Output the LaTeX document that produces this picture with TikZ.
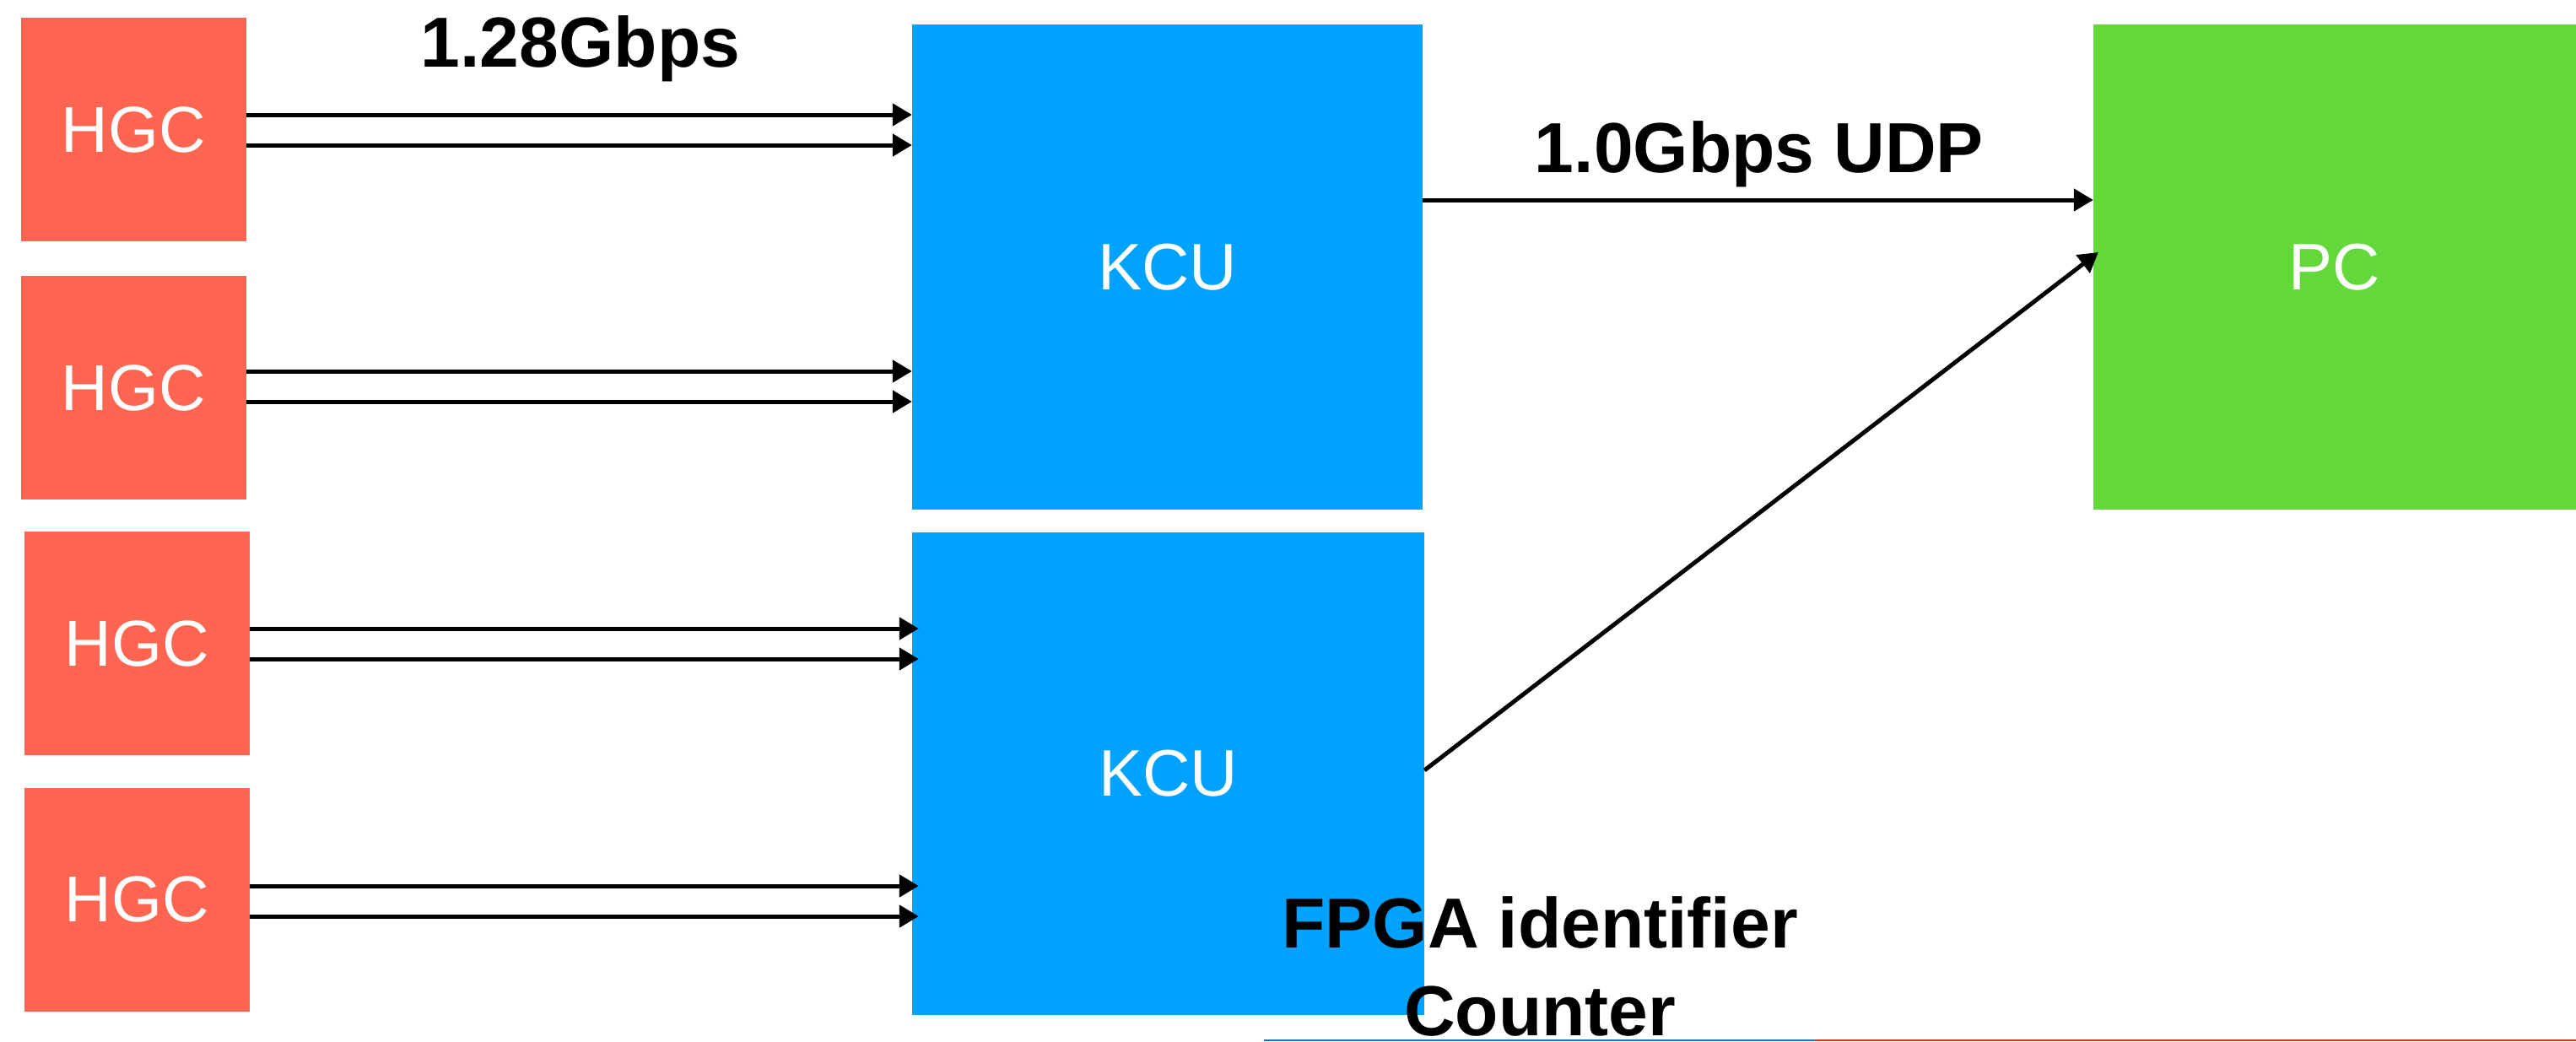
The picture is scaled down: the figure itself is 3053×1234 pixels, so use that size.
\documentclass[tikz,border=0pt]{standalone}
\usepackage{fontspec}
\setmainfont{Liberation Sans}
\usetikzlibrary{arrows.meta,calc}
\definecolor{hgcred}{RGB}{255,101,80}
\definecolor{kcublue}{RGB}{0,162,255}
\definecolor{pcgreen}{RGB}{98,216,58}
\definecolor{lineblue}{RGB}{32,112,184}
\definecolor{linered}{RGB}{216,48,32}
\tikzset{
  hgcbox/.style={fill=hgcred, draw=none, inner sep=0pt, minimum width=267pt, minimum height=265pt,
    text=white, font=\fontsize{77}{92}\selectfont},
  kcubox/.style={fill=kcublue, draw=none, inner sep=0pt, minimum width=605pt, minimum height=575pt,
    text=white, font=\fontsize{78}{94}\selectfont},
  pcbox/.style={fill=pcgreen, draw=none, inner sep=0pt, minimum width=572pt, minimum height=575pt,
    text=white, font=\fontsize{78}{94}\selectfont},
  arr/.style={line width=5pt, -{Triangle[length=23pt,width=26pt]}},
  lbl/.style={inner sep=0pt, anchor=base, font=\bfseries\fontsize{84}{104}\selectfont}
}
\begin{document}
\begin{tikzpicture}[x=1pt,y=-1pt]
\useasboundingbox (0,0) rectangle (3053,1234);
% boxes
\node[hgcbox] (h1) at (158.5,153.5) {HGC};
\node[hgcbox] (h2) at (158.5,459.5) {HGC};
\node[hgcbox] (h3) at (162.5,762.5) {HGC};
\node[hgcbox] (h4) at (162.5,1066) {HGC};
\node[kcubox] (k1) at (1383.5,316.5) {KCU};
\node[kcubox, minimum width=607pt, minimum height=572pt] (k2) at (1384.5,917) {KCU};
\node[pcbox] (pc) at (2767,316.5) {PC};
% HGC -> KCU arrows
\draw[arr] (h1.east |- 0,136) -- (k1.west |- 0,136);
\draw[arr] (h1.east |- 0,172) -- (k1.west |- 0,172);
\draw[arr] (h2.east |- 0,440) -- (k1.west |- 0,440);
\draw[arr] (h2.east |- 0,476) -- (k1.west |- 0,476);
\draw[arr] (h3.east |- 0,745) -- ([xshift=8pt]k2.west |- 0,745);
\draw[arr] (h3.east |- 0,781) -- ([xshift=8pt]k2.west |- 0,781);
\draw[arr] (h4.east |- 0,1050) -- ([xshift=8pt]k2.west |- 0,1050);
\draw[arr] (h4.east |- 0,1086) -- ([xshift=8pt]k2.west |- 0,1086);
% KCU -> PC arrows
\draw[arr] (k1.east |- 0,237) -- (pc.west |- 0,237);
\draw[arr] (k2.east |- 0,913) -- ([xshift=6pt]pc.west |- 0,299);
% labels
\node[lbl] (l1) at (688,79) {1.28Gbps};
\node[lbl] (l2) at (2085,204) {1.0Gbps UDP};
\node[lbl] (l3) at (1825,1123) {FPGA identifier};
\node[lbl] (l4) at (1825,1227) {Counter};
% bottom thin line
\coordinate (b0) at (1498,1233);
\coordinate (b1) at (2151,1233);
\coordinate (b2) at (3053,1233);
\draw[lineblue, line width=2pt] (b0) -- (b1);
\draw[linered, line width=2pt] (b1) -- (b2);
\end{tikzpicture}
\end{document}
